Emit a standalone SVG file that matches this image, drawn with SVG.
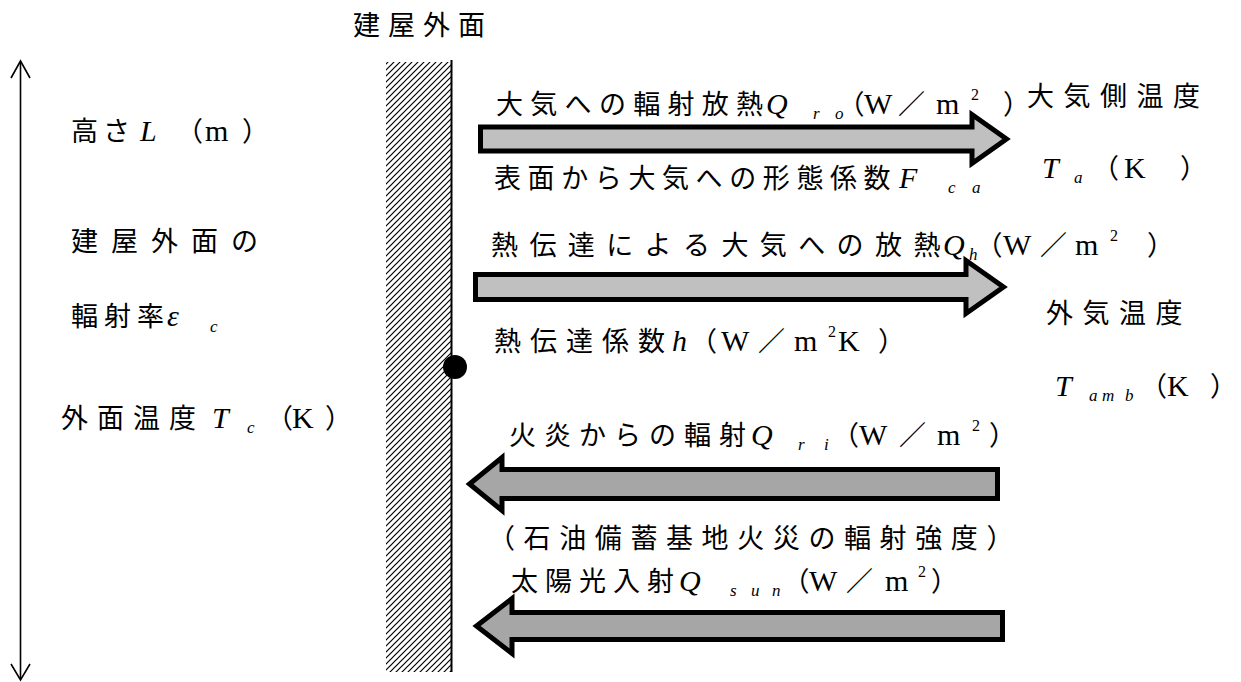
<svg xmlns="http://www.w3.org/2000/svg" width="1241" height="682" viewBox="0 0 1241 682">
<style>
.t{font-family:"Liberation Serif","Noto Sans CJK JP",serif;font-size:27px;fill:#000}
.m{font-style:italic;font-size:30px}
.s{font-style:italic;font-size:17px}
.u{font-size:30px}
.p{font-size:16px}
.pa{font-feature-settings:"palt"}
.ar{stroke:#000;stroke-width:5;stroke-linejoin:miter;stroke-miterlimit:10}
.light{fill:#c0c0c0}
.dark{fill:#a6a6a6}
.ln{stroke:#000;stroke-width:1.6;fill:none}
</style>
<defs>
<pattern id="hatch" patternUnits="userSpaceOnUse" width="6" height="6">
<rect width="6" height="6" fill="#fff"/>
<path d="M-1,1 L1,-1 M0,6 L6,0 M5,7 L7,5" stroke="#000" stroke-width="1.2"/>
</pattern>
</defs>
<rect width="1241" height="682" fill="#fff"/>

<g id="wall">
<rect x="386" y="62" width="65" height="610" fill="url(#hatch)"/>
<line x1="451.5" y1="60" x2="451.5" y2="672" stroke="#000" stroke-width="2"/>
<circle cx="455" cy="367" r="12" fill="#000"/>
<text class="t" x="353 388 423 458" y="35">建屋外面</text>
</g>

<g id="height-axis">
<line class="ln" x1="20.5" y1="62" x2="20.5" y2="679"/>
<polyline class="ln" points="11,78 20.5,61 30,78"/>
<polyline class="ln" points="11,664 20.5,680 30,664"/>
</g>

<g id="left-labels">
<text class="t" y="141"><tspan x="71 103">高さ</tspan><tspan class="m" x="140">L</tspan><tspan x="176">（</tspan><tspan class="u" x="205">m</tspan><tspan x="242">）</tspan></text>
<text class="t" x="71 111 151 191 231" y="251">建屋外面の</text>
<text class="t" y="326"><tspan x="71 104 137">輻射率</tspan><tspan class="m" x="167">ε</tspan><tspan class="s" x="210" y="332">c</tspan></text>
<text class="t" y="428"><tspan x="61 97 133 169">外面温度</tspan><tspan class="m" x="212">T</tspan><tspan class="s" x="247" y="433">c</tspan><tspan x="266" y="428">（</tspan><tspan class="u" x="292">K</tspan><tspan x="325">）</tspan></text>
</g>

<g id="right-labels">
<text class="t" x="1027 1063.5 1100 1136.5 1173" y="106">大気側温度</text>
<text class="t" y="178"><tspan class="m" x="1042">T</tspan><tspan class="s" x="1074" y="183">a</tspan><tspan x="1092" y="178">（</tspan><tspan class="u" x="1124">K</tspan><tspan x="1180">）</tspan></text>
<text class="t" x="1046 1082.5 1119 1155.5" y="323">外気温度</text>
<text class="t" y="396"><tspan class="m" x="1055">T</tspan><tspan class="s" x="1089 1102 1125" y="401">amb</tspan><tspan x="1140" y="396">（</tspan><tspan class="u" x="1167">K</tspan><tspan x="1210">）</tspan></text>
</g>

<g id="connectors">
<path id="arrow-ro" class="ar light" d="M480.5,127 L972,127 L972,114.5 L1006.5,139 L972,163.5 L972,151 L480.5,151 Z"/>
<path id="arrow-h" class="ar light" d="M475.5,274.5 L966,274.5 L966,260.5 L1003.5,287 L966,313.5 L966,299.5 L475.5,299.5 Z"/>
<path id="arrow-ri" class="ar dark" d="M997.5,469.5 L502,469.5 L502,457.5 L469.5,484 L502,510.5 L502,498.5 L997.5,498.5 Z"/>
<path id="arrow-sun" class="ar dark" d="M1002.5,612.5 L512,612.5 L512,598.5 L476.5,626 L512,653.5 L512,639.5 L1002.5,639.5 Z"/>
</g>

<g id="label-ro">
<text class="t" y="114"><tspan x="496 530.3 564.6 598.9 633.2 667.5 701.8 736.1">大気への輻射放熱</tspan><tspan class="m" x="766">Q</tspan><tspan class="s" x="813 835" y="119">ro</tspan><tspan class="pa" x="850" y="114">（</tspan><tspan class="u" x="864">W</tspan><tspan x="898">／</tspan><tspan class="u" x="936">m</tspan><tspan class="p" x="971" y="100">2</tspan><tspan x="1003" y="114">）</tspan></text>
</g>
<g id="label-fca">
<text class="t" y="188"><tspan x="494 527.6 561.2 594.8 628.4 662 695.6 729.2 762.8 796.4 830 863.6">表面から大気への形態係数</tspan><tspan class="m" x="899">F</tspan><tspan class="s" x="948 972" y="193">ca</tspan></text>
</g>

<g id="label-h">
<text class="t" y="255"><tspan x="491 529.4 567.8 606.2 644.6 683 721.4 759.8 798.2 836.6 875 913.4">熱伝達による大気への放熱</tspan><tspan class="m" x="943">Q</tspan><tspan class="s" x="969" y="260">h</tspan><tspan class="pa" x="988" y="255">（</tspan><tspan class="u" x="1003">W</tspan><tspan x="1040">／</tspan><tspan class="u" x="1075">m</tspan><tspan class="p" x="1110" y="241">2</tspan><tspan x="1147" y="255">）</tspan></text>
</g>
<g id="label-hcoef">
<text class="t" y="351"><tspan x="494 530 566 602 638">熱伝達係数</tspan><tspan class="m" x="672">h</tspan><tspan x="690">（</tspan><tspan class="u" x="721">W</tspan><tspan x="758">／</tspan><tspan class="u" x="794">m</tspan><tspan class="p" x="828" y="337">2</tspan><tspan class="u" x="838" y="351">K</tspan><tspan x="878">）</tspan></text>
</g>

<g id="label-ri">
<text class="t" y="445"><tspan x="509 544 579 614 649 684 719">火炎からの輻射</tspan><tspan class="m" x="751">Q</tspan><tspan class="s" x="798 824" y="450">ri</tspan><tspan x="832" y="445">（</tspan><tspan class="u" x="859">W</tspan><tspan x="899">／</tspan><tspan class="u" x="937">m</tspan><tspan class="p" x="972" y="431">2</tspan><tspan x="989" y="445">）</tspan></text>
</g>
<g id="label-fire">
<text class="t" x="488 523.6 559.2 594.8 630.4 666 701.6 737.2 772.8 808.4 844 879.6 915.2 950.8 986.4" y="548">（石油備蓄基地火災の輻射強度）</text>
</g>

<g id="label-sun">
<text class="t" y="591"><tspan x="511 545 579 613 647">太陽光入射</tspan><tspan class="m" x="679">Q</tspan><tspan class="s" x="730 751 772" y="596">sun</tspan><tspan class="pa" x="795" y="591">（</tspan><tspan class="u" x="809">W</tspan><tspan x="846">／</tspan><tspan class="u" x="885">m</tspan><tspan class="p" x="918" y="577">2</tspan><tspan x="931" y="591">）</tspan></text>
</g>
</svg>
